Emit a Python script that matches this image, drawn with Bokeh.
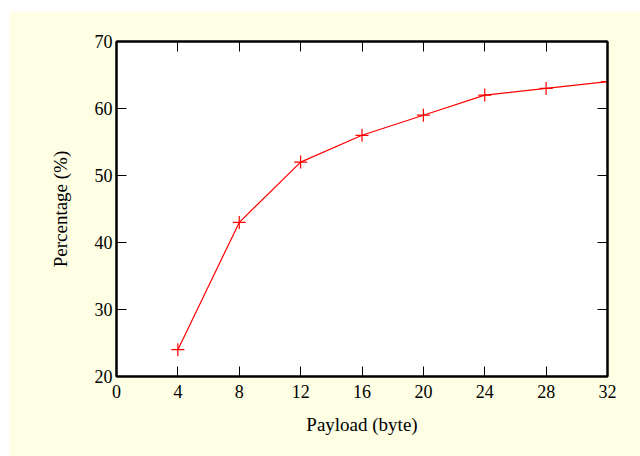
from bokeh.plotting import figure
from bokeh.models import LinearAxis, FixedTicker, Range1d, CustomJSTickFormatter
from bokeh.embed import file_html
from bokeh.resources import INLINE

payload = [4, 8, 12, 16, 20, 24, 28, 32]
percentage = [24, 43, 52, 56, 59, 62, 63, 64]
x_ticks = [0, 4, 8, 12, 16, 20, 24, 28, 32]
y_ticks = [20, 30, 40, 50, 60, 70]

BG = "#FEFEE4"
FONT = "Liberation Serif"

p = figure(width=631, height=445, output_backend="svg", toolbar_location=None,
           x_range=Range1d(0, 32), y_range=Range1d(20, 70),
           x_axis_label="Payload (byte)", y_axis_label="Percentage (%)")
p.margin = (11, 0, 0, 9)
p.min_border_left = 107
p.min_border_right = 33
p.min_border_top = 30
p.min_border_bottom = 80
p.background_fill_color = "white"
p.border_fill_color = BG
p.outline_line_color = "black"
p.outline_line_width = 2
p.grid.visible = False

p.xaxis.ticker = FixedTicker(ticks=x_ticks)
p.yaxis.ticker = FixedTicker(ticks=y_ticks)

for ax in [p.xaxis[0], p.yaxis[0]]:
    ax.major_tick_in = 10
    ax.major_tick_out = 0
    ax.minor_tick_in = 0
    ax.minor_tick_out = 0
    ax.axis_line_width = 2
    ax.axis_line_color = "black"
    ax.major_tick_line_color = "black"
    ax.major_tick_line_width = 1
    ax.major_label_text_font = FONT
    ax.major_label_text_font_size = "18px"
    ax.major_label_text_color = "black"
    ax.axis_label_text_font = FONT
    ax.axis_label_text_font_size = "19px"
    ax.axis_label_text_font_style = "normal"
    ax.axis_label_text_color = "black"

p.xaxis.major_label_standoff = 8
p.yaxis.major_label_standoff = 4
p.xaxis.axis_label_standoff = 13
p.yaxis.axis_label_standoff = 21

top = LinearAxis(ticker=FixedTicker(ticks=x_ticks), formatter=CustomJSTickFormatter(code="return ''"),
                 major_tick_in=10, major_tick_out=0, minor_tick_in=0, minor_tick_out=0,
                 axis_line_width=2, major_tick_line_width=1, major_label_standoff=0)
right = LinearAxis(ticker=FixedTicker(ticks=y_ticks), formatter=CustomJSTickFormatter(code="return ''"),
                   major_tick_in=10, major_tick_out=0, minor_tick_in=0, minor_tick_out=0,
                   axis_line_width=2, major_tick_line_width=1, major_label_standoff=0)
p.add_layout(top, "above")
p.add_layout(right, "right")

p.line(payload, percentage, line_color="red", line_width=1.2)
p.scatter(payload, percentage, marker="cross", size=13, line_color="red", line_width=1.2)

open("out.html", "w").write(file_html(p, INLINE))
